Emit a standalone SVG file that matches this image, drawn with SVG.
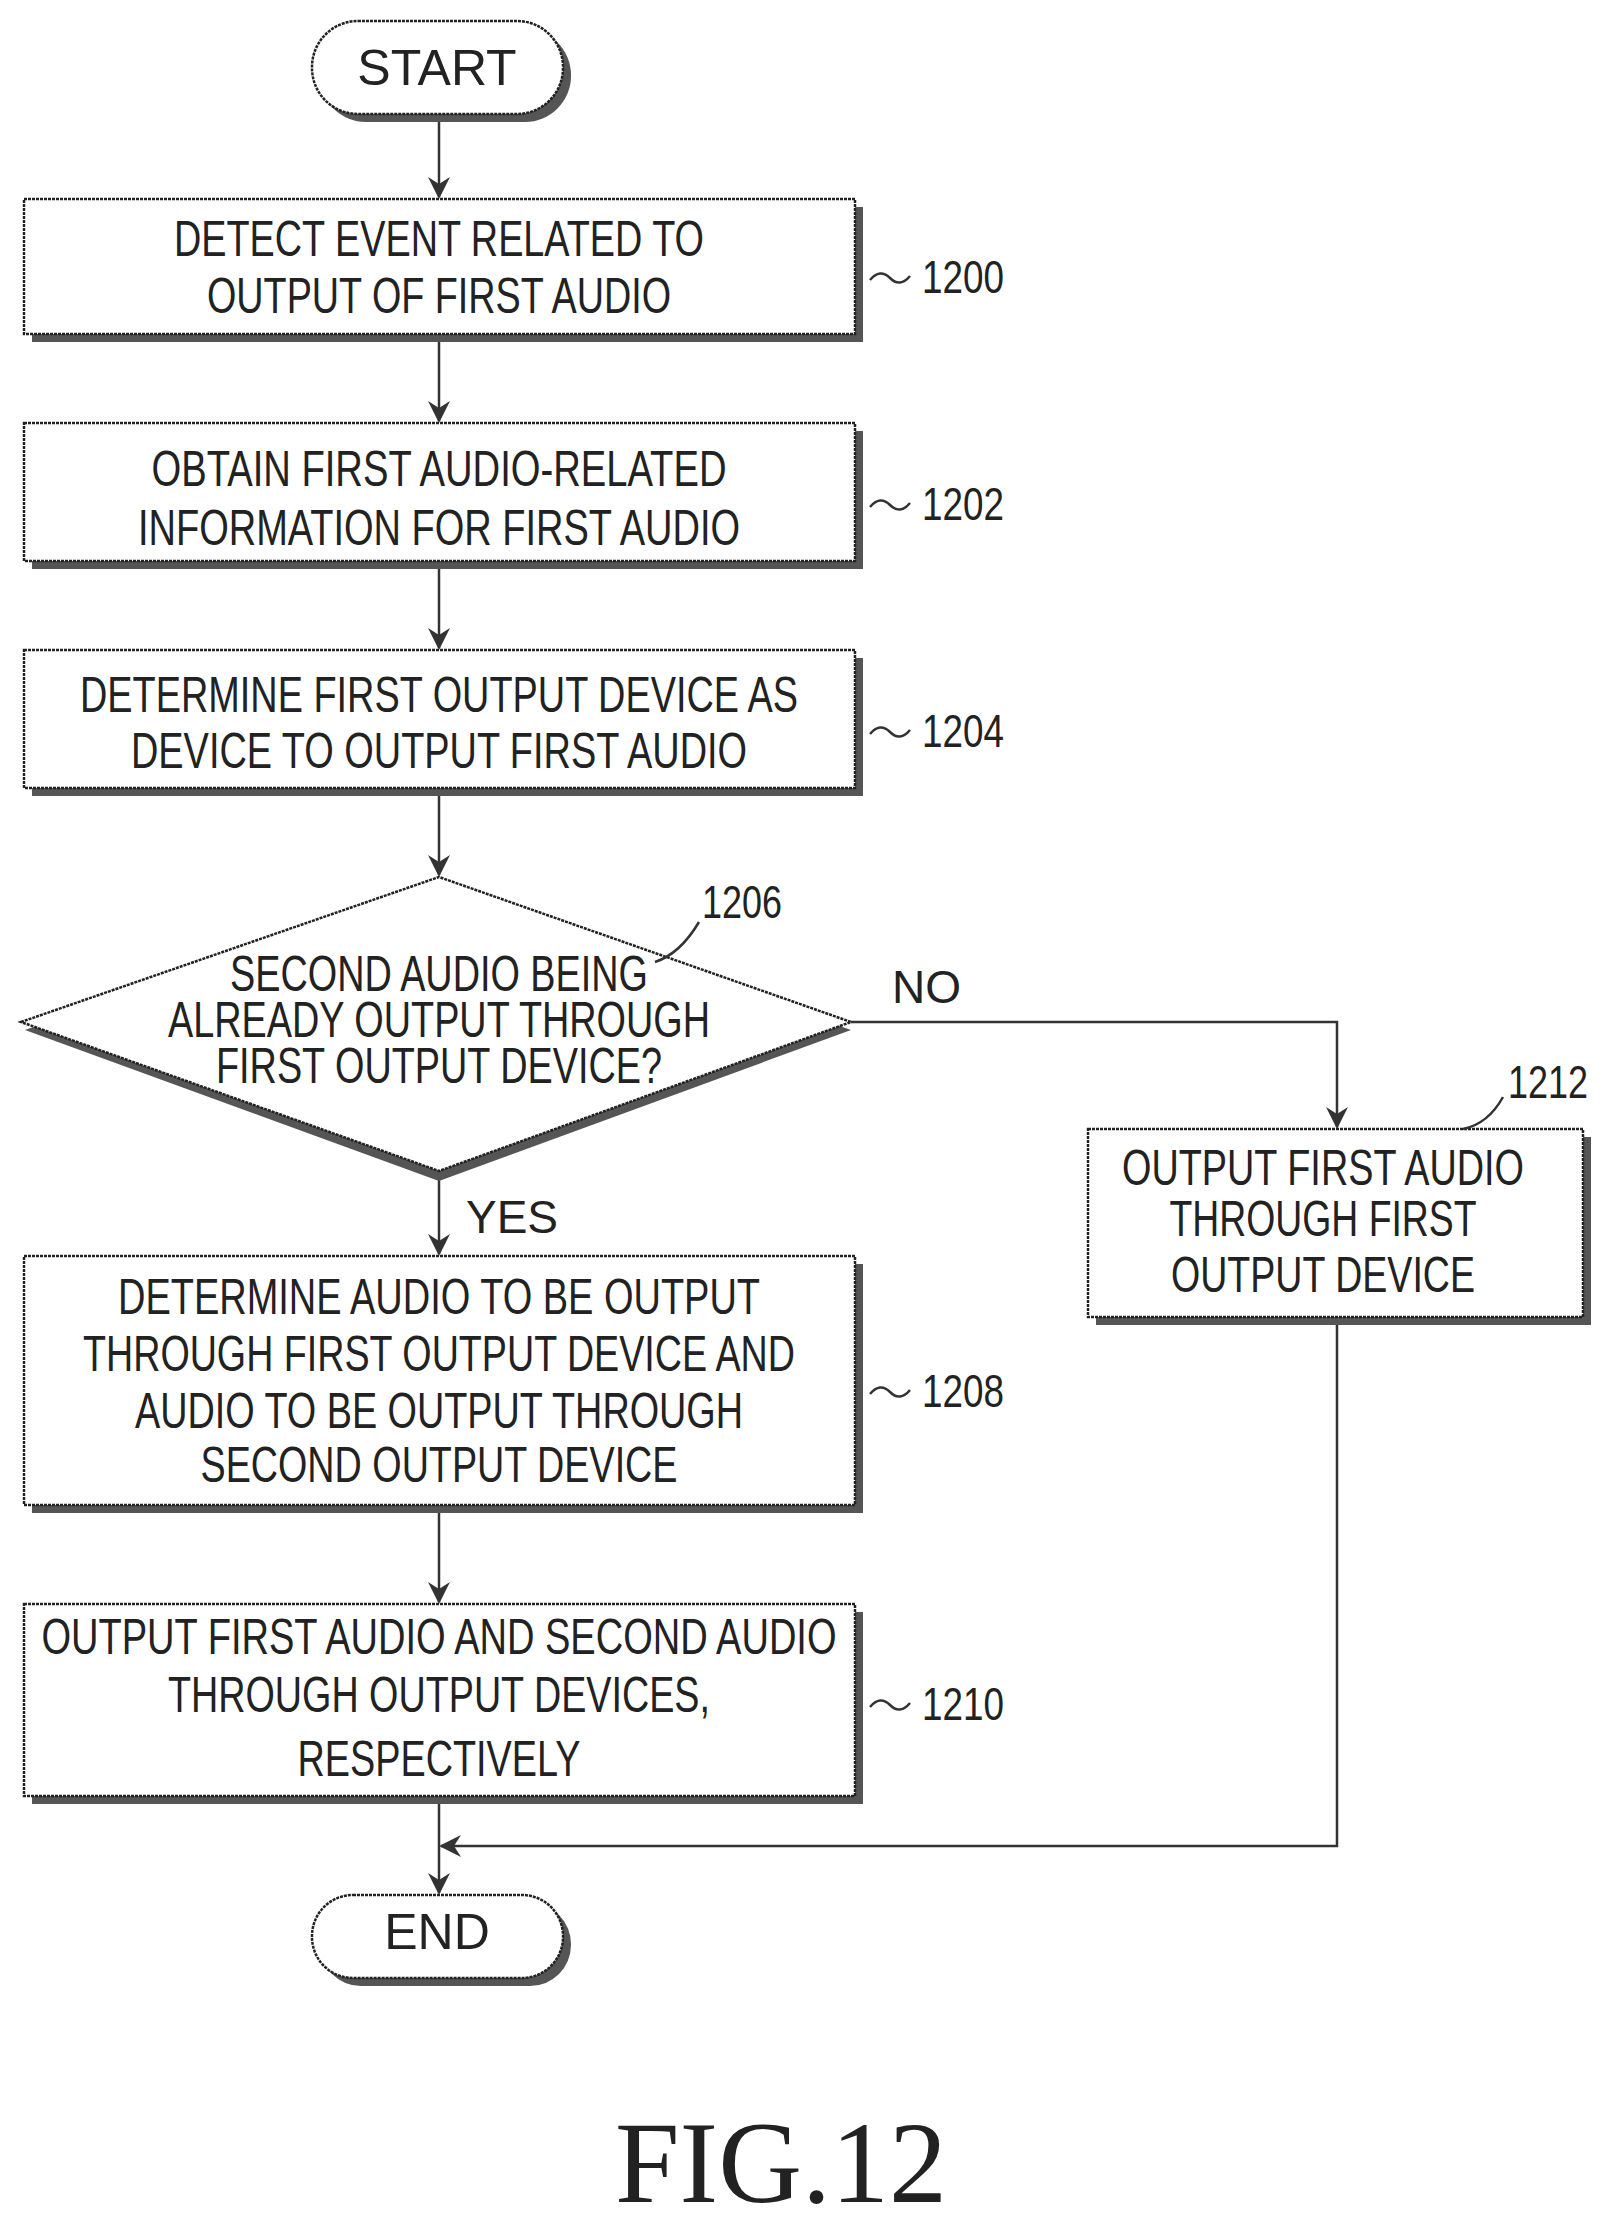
<svg xmlns="http://www.w3.org/2000/svg" width="1611" height="2226" viewBox="0 0 1611 2226">
<style>
.b{fill:#fff;stroke:#222;stroke-width:2.5;stroke-dasharray:3 1}
.s{fill:#555}
.t{font-family:"Liberation Sans",Arial,sans-serif;font-size:50px;fill:#222;text-anchor:middle}
.n{font-family:"Liberation Sans",Arial,sans-serif;font-size:46px;fill:#222}
.l{fill:none;stroke:#333;stroke-width:2.5}
</style>
<defs><marker id="a" markerWidth="22" markerHeight="26" refX="20" refY="11" orient="auto" markerUnits="userSpaceOnUse" viewBox="0 0 22 22"><path d="M0,0 L22,11 L0,22 L7,11 Z" fill="#333"/></marker></defs>
<g id="connectors">
<path class="l" d="M439,114 V197" marker-end="url(#a)"/>
<path class="l" d="M439,334 V421" marker-end="url(#a)"/>
<path class="l" d="M439,561 V648" marker-end="url(#a)"/>
<path class="l" d="M439,788 V875" marker-end="url(#a)"/>
<path class="l" d="M439,1171 V1254" marker-end="url(#a)"/>
<path class="l" d="M439,1505 V1602" marker-end="url(#a)"/>
<path class="l" d="M439,1796 V1893" marker-end="url(#a)"/>
<path class="l" d="M851,1022 H1337 V1127" marker-end="url(#a)"/>
<path class="l" d="M1337,1317 V1846 H441" marker-end="url(#a)"/>
<text class="n" x="892" y="1003" font-size="44">NO</text>
<text class="n" x="466" y="1233" font-size="44">YES</text>
</g>
<g id="start"><rect class="s" x="320" y="29" width="251" height="93" rx="46"/><rect class="b" x="312" y="21" width="251" height="93" rx="46"/><text class="t" x="437" y="85">START</text></g>
<g id="n1200"><rect class="s" x="32" y="207" width="831" height="135"/><rect class="b" x="24" y="199" width="831" height="135"/>
<text class="t" x="439" y="256" textLength="530" lengthAdjust="spacingAndGlyphs">DETECT EVENT RELATED TO</text>
<text class="t" x="439" y="313" textLength="464" lengthAdjust="spacingAndGlyphs">OUTPUT OF FIRST AUDIO</text>
<path class="l" d="M870,280 q10,-12 20,-2 t20,-2"/><text class="n" x="922" y="293" textLength="82" lengthAdjust="spacingAndGlyphs">1200</text></g>
<g id="n1202"><rect class="s" x="32" y="431" width="831" height="138"/><rect class="b" x="24" y="423" width="831" height="138"/>
<text class="t" x="439" y="486" textLength="575" lengthAdjust="spacingAndGlyphs">OBTAIN FIRST AUDIO-RELATED</text>
<text class="t" x="439" y="545" textLength="602" lengthAdjust="spacingAndGlyphs">INFORMATION FOR FIRST AUDIO</text>
<path class="l" d="M870,507 q10,-12 20,-2 t20,-2"/><text class="n" x="922" y="520" textLength="82" lengthAdjust="spacingAndGlyphs">1202</text></g>
<g id="n1204"><rect class="s" x="32" y="658" width="831" height="138"/><rect class="b" x="24" y="650" width="831" height="138"/>
<text class="t" x="439" y="712" textLength="718" lengthAdjust="spacingAndGlyphs">DETERMINE FIRST OUTPUT DEVICE AS</text>
<text class="t" x="439" y="768" textLength="616" lengthAdjust="spacingAndGlyphs">DEVICE TO OUTPUT FIRST AUDIO</text>
<path class="l" d="M870,734 q10,-12 20,-2 t20,-2"/><text class="n" x="922" y="747" textLength="82" lengthAdjust="spacingAndGlyphs">1204</text></g>
<g id="n1206"><polygon class="s" points="25,1030 439,885 851,1030 439,1181"/><polygon class="b" points="21,1022 439,877 851,1022 439,1171"/>
<text class="t" x="439" y="991" textLength="418" lengthAdjust="spacingAndGlyphs">SECOND AUDIO BEING</text>
<text class="t" x="439" y="1037" textLength="542" lengthAdjust="spacingAndGlyphs">ALREADY OUTPUT THROUGH</text>
<text class="t" x="439" y="1083" textLength="446" lengthAdjust="spacingAndGlyphs">FIRST OUTPUT DEVICE?</text>
<path class="l" d="M655,962 q25,-8 44,-40"/><text class="n" x="702" y="918" textLength="80" lengthAdjust="spacingAndGlyphs">1206</text></g>
<g id="n1208"><rect class="s" x="32" y="1264" width="831" height="249"/><rect class="b" x="24" y="1256" width="831" height="249"/>
<text class="t" x="439" y="1314" textLength="642" lengthAdjust="spacingAndGlyphs">DETERMINE AUDIO TO BE OUTPUT</text>
<text class="t" x="439" y="1371" textLength="712" lengthAdjust="spacingAndGlyphs">THROUGH FIRST OUTPUT DEVICE AND</text>
<text class="t" x="439" y="1428" textLength="608" lengthAdjust="spacingAndGlyphs">AUDIO TO BE OUTPUT THROUGH</text>
<text class="t" x="439" y="1482" textLength="477" lengthAdjust="spacingAndGlyphs">SECOND OUTPUT DEVICE</text>
<path class="l" d="M870,1394 q10,-12 20,-2 t20,-2"/><text class="n" x="922" y="1407" textLength="82" lengthAdjust="spacingAndGlyphs">1208</text></g>
<g id="n1210"><rect class="s" x="32" y="1612" width="831" height="192"/><rect class="b" x="24" y="1604" width="831" height="192"/>
<text class="t" x="439" y="1654" textLength="795" lengthAdjust="spacingAndGlyphs">OUTPUT FIRST AUDIO AND SECOND AUDIO</text>
<text class="t" x="439" y="1712" textLength="542" lengthAdjust="spacingAndGlyphs">THROUGH OUTPUT DEVICES,</text>
<text class="t" x="439" y="1776" textLength="283" lengthAdjust="spacingAndGlyphs">RESPECTIVELY</text>
<path class="l" d="M870,1707 q10,-12 20,-2 t20,-2"/><text class="n" x="922" y="1720" textLength="82" lengthAdjust="spacingAndGlyphs">1210</text></g>
<g id="n1212"><rect class="s" x="1096" y="1137" width="495" height="188"/><rect class="b" x="1088" y="1129" width="495" height="188"/>
<text class="t" x="1323" y="1185" textLength="402" lengthAdjust="spacingAndGlyphs">OUTPUT FIRST AUDIO</text>
<text class="t" x="1323" y="1236" textLength="307" lengthAdjust="spacingAndGlyphs">THROUGH FIRST</text>
<text class="t" x="1323" y="1292" textLength="304" lengthAdjust="spacingAndGlyphs">OUTPUT DEVICE</text>
<path class="l" d="M1463,1129 q25,-5 40,-32"/><text class="n" x="1508" y="1098" textLength="80" lengthAdjust="spacingAndGlyphs">1212</text></g>
<g id="end"><rect class="s" x="320" y="1903" width="251" height="83" rx="41"/><rect class="b" x="312" y="1895" width="251" height="83" rx="41"/><text class="t" x="437" y="1949" font-size="44">END</text></g>
<text x="781" y="2202" font-family="Liberation Serif,serif" font-size="116" fill="#222" text-anchor="middle">FIG.12</text>
</svg>
